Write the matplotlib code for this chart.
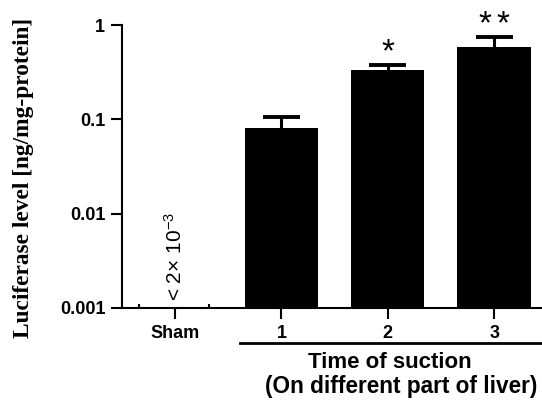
import matplotlib
matplotlib.use("Agg")
import matplotlib.pyplot as plt
from matplotlib.lines import Line2D
import numpy as np

# data
groups = ["Sham", "1", "2", "3"]
means = [np.nan, 0.080, 0.332, 0.583]
err_up = [np.nan, 0.025, 0.043, 0.162]
n_stars = [0, 0, 1, 2]
yticks = [0.001, 0.01, 0.1, 1]
ytick_labels = ["0.001", "0.01", "0.1", "1"]

plt.rcParams["font.family"] = ["Liberation Sans", "DejaVu Sans"]
plt.rcParams["mathtext.default"] = "regular"

fig = plt.figure(figsize=(5.42, 4.0), dpi=100)
ax = fig.add_axes([0.225, 0.23, 0.775, 0.7075])

x = np.arange(len(groups))
ax.bar(x[1:], means[1:], width=0.69, bottom=0.001, color="black", zorder=2)
# upper error bars only
tops = np.array(means[1:]) + np.array(err_up[1:])
ax.vlines(x[1:], means[1:], tops, color="black", linewidth=2.2, zorder=1)
ax.hlines(tops, x[1:] - 0.175, x[1:] + 0.175, color="black", linewidth=2.8,
          zorder=1)

for xi, top, n in zip(x, np.r_[np.nan, tops], n_stars):
    if n == 0:
        continue
    offs = [0] if n == 1 else [-9, 9]
    for dx in offs:
        ax.annotate("*", (xi, top), xytext=(dx * 0.72, -2.5),
                    textcoords="offset points", ha="center", va="bottom",
                    fontsize=24, annotation_clip=False)

ax.text(0, 0.0012, "< 2× 10$^{-3}$", rotation=90, ha="center", va="bottom",
        fontsize=15)

ax.set_yscale("log")
ax.set_ylim(0.001, 1)
ax.set_xlim(-0.5, 3.45)
ax.set_yticks(yticks)
ax.set_yticklabels(ytick_labels)
ax.yaxis.set_minor_locator(matplotlib.ticker.NullLocator())
ax.set_xticks(x)
ax.set_xticklabels(groups)
ax.set_xticks([-0.34, 0.32], minor=True)
ax.tick_params(axis="x", which="minor", direction="in", length=3, width=1.5)

for lbl in ax.get_yticklabels() + ax.get_xticklabels():
    lbl.set_fontweight("bold")
    lbl.set_fontsize(13)

ax.tick_params(axis="both", which="major", length=8, width=1.5, pad=4)
for side in ["top", "right"]:
    ax.spines[side].set_visible(False)
for side in ["left", "bottom"]:
    ax.spines[side].set_linewidth(1.5)

ax.set_ylabel("Luciferase level [ng/mg-protein]", family="Liberation Serif",
              fontweight="bold", fontsize=16.8)
ax.yaxis.set_label_coords(-0.21, 0.46)

fig.add_artist(Line2D([240 / 542, 1.0], [1 - 343 / 400] * 2, color="black",
                      linewidth=2.0))
fig.text(390 / 542, 1 - 362 / 400, "Time of suction", ha="center", va="center",
         fontsize=16, fontweight="bold")
fig.text(401 / 542, 1 - 387 / 400, "(On different part of liver)", ha="center",
         va="center", fontsize=16.3, fontweight="bold")

fig.savefig("out.png", dpi=100)
